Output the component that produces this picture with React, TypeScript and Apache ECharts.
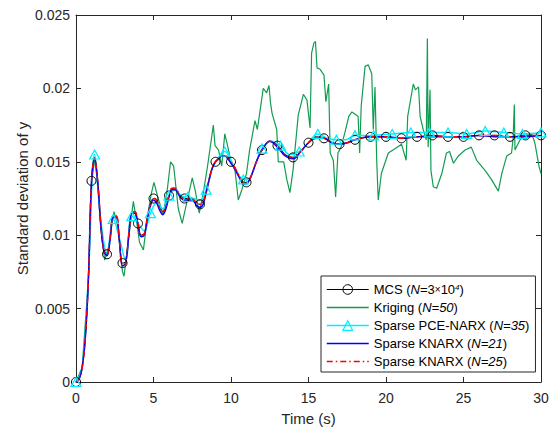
import React, { useEffect, useRef } from 'react';
import * as echarts from 'echarts';

const FONT = '"Liberation Sans", Arial, Helvetica, sans-serif';
const AXIS_COLOR = '#262626';

// Tick values
const X_TICKS = [0, 5, 10, 15, 20, 25, 30];
const Y_TICKS = [0, 0.005, 0.01, 0.015, 0.02, 0.025];

// Legend / series names
const N_MCS = 'MCS (N=3×10⁴)';
const N_KRIG = 'Kriging (N=50)';
const N_PCE = 'Sparse PCE-NARX (N=35)';
const N_K21 = 'Sparse KNARX (N=21)';
const N_K25 = 'Sparse KNARX (N=25)';

// Time grid for MCS and KNARX curves (s)
const T_MAIN = [
  0, 0.2, 0.4, 0.6, 0.8, 1, 1.2, 1.4, 1.6, 1.8,
  2, 2.2, 2.4, 2.6, 2.8, 3, 3.2, 3.4, 3.6, 3.8,
  4, 4.2, 4.4, 4.6, 4.8, 5, 5.2, 5.4, 5.6, 5.8,
  6, 6.2, 6.4, 6.6, 6.8, 7, 7.2, 7.4, 7.6, 7.8,
  8, 8.2, 8.4, 8.6, 8.8, 9, 9.2, 9.4, 9.6, 9.8,
  10, 10.2, 10.4, 10.6, 10.8, 11, 11.2, 11.4, 11.6, 11.8,
  12, 12.5, 13, 13.5, 14, 14.5, 15, 15.5, 16, 16.5, 17, 17.5, 18,
  19, 20, 21, 22, 23, 24, 25, 26, 27, 28, 29, 30,
];

const MCS = [
  0, 0.0002, 0.0010, 0.0030, 0.0070, 0.0137, 0.0153, 0.0137, 0.0108, 0.0090,
  0.0087, 0.0098, 0.0113, 0.0113, 0.0097, 0.0081, 0.0082, 0.0100, 0.0115, 0.0116,
  0.0108, 0.0100, 0.0101, 0.0112, 0.0121, 0.0125, 0.0124, 0.0119, 0.0116, 0.0120,
  0.0127, 0.0132, 0.0132, 0.0129, 0.0126, 0.0125, 0.0125, 0.0125, 0.0124, 0.0122,
  0.0121, 0.0123, 0.0130, 0.0139, 0.0146, 0.0150, 0.0152, 0.0154, 0.0154, 0.0153,
  0.0150, 0.0147, 0.0143, 0.0139, 0.0136, 0.0136, 0.0138, 0.0143, 0.0149, 0.0154,
  0.0158, 0.0164, 0.0161, 0.0155, 0.0153, 0.0157, 0.0163, 0.0167, 0.0166, 0.0163, 0.0162, 0.0163, 0.0165,
  0.0167, 0.0167, 0.0166, 0.0167, 0.0168, 0.0167, 0.0167, 0.0168, 0.0168, 0.0167, 0.0168, 0.0168,
];

const KNARX21 = [
  0, 0.0002, 0.0010, 0.0030, 0.0070, 0.0136, 0.0152, 0.0136, 0.0107, 0.0089,
  0.0086, 0.0097, 0.0112, 0.0112, 0.0096, 0.0079, 0.0081, 0.0099, 0.0115, 0.0115,
  0.0107, 0.0099, 0.0100, 0.0111, 0.0120, 0.0124, 0.0122, 0.0117, 0.0114, 0.0118,
  0.0126, 0.0131, 0.0131, 0.0128, 0.0125, 0.0124, 0.0124, 0.0124, 0.0123, 0.0120,
  0.0119, 0.0121, 0.0129, 0.0138, 0.0146, 0.0150, 0.0152, 0.0154, 0.0154, 0.0152,
  0.0149, 0.0146, 0.0142, 0.0138, 0.0135, 0.0135, 0.0138, 0.0143, 0.0149, 0.0154,
  0.0158, 0.0164, 0.0160, 0.0154, 0.0152, 0.0157, 0.0163, 0.0166, 0.0166, 0.0163, 0.0162, 0.0163, 0.0165,
  0.0167, 0.0167, 0.0166, 0.0167, 0.0167, 0.0167, 0.0167, 0.0168, 0.0167, 0.0167, 0.0167, 0.0168,
];

const KNARX25 = [
  0, 0.0002, 0.0010, 0.0030, 0.0070, 0.0137, 0.0152, 0.0137, 0.0108, 0.0090,
  0.0087, 0.0098, 0.0113, 0.0113, 0.0096, 0.0079, 0.0081, 0.0100, 0.0115, 0.0116,
  0.0108, 0.0100, 0.0101, 0.0112, 0.0121, 0.0125, 0.0124, 0.0119, 0.0116, 0.0120,
  0.0127, 0.0132, 0.0132, 0.0129, 0.0126, 0.0125, 0.0125, 0.0125, 0.0124, 0.0122,
  0.0121, 0.0123, 0.0130, 0.0139, 0.0146, 0.0150, 0.0152, 0.0154, 0.0154, 0.0153,
  0.0150, 0.0147, 0.0143, 0.0139, 0.0136, 0.0136, 0.0138, 0.0143, 0.0149, 0.0154,
  0.0158, 0.0164, 0.0161, 0.0155, 0.0153, 0.0157, 0.0163, 0.0167, 0.0166, 0.0163, 0.0162, 0.0163, 0.0165,
  0.0167, 0.0167, 0.0166, 0.0167, 0.0168, 0.0167, 0.0167, 0.0168, 0.0168, 0.0167, 0.0168, 0.0168,
];

// Sparse PCE-NARX (triangle markers every 1.2 s)
const T_PCE = [
  0, 0.4, 0.8, 1.2, 1.6, 2.0, 2.4, 2.8, 3.2, 3.6, 4.0, 4.4, 4.8, 5.2, 5.6, 6.0,
  6.4, 6.8, 7.2, 7.6, 8.0, 8.4, 8.8, 9.2, 9.6, 10.0, 10.4, 10.8, 11.2, 11.6, 12.0,
  12.6, 13.2, 13.8, 14.4, 15.0, 15.6, 16.2, 16.8, 17.4, 18.0,
  19.2, 20.4, 21.6, 22.8, 24.0, 25.2, 26.4, 27.6, 28.8, 30.0,
];
const PCE = [
  0, 0.0010, 0.0072, 0.0155, 0.0110, 0.0088, 0.0111, 0.0098, 0.0083, 0.0113, 0.0108, 0.0103, 0.0115, 0.0122, 0.0118, 0.0127,
  0.0131, 0.0127, 0.0126, 0.0125, 0.0124, 0.0131, 0.0146, 0.0153, 0.0157, 0.0151, 0.0143, 0.0138, 0.0139, 0.0149, 0.0159,
  0.0164, 0.0161, 0.0155, 0.0157, 0.0163, 0.0169, 0.0166, 0.0165, 0.0165, 0.0168,
  0.0168, 0.0169, 0.0170, 0.0170, 0.0170, 0.0169, 0.0171, 0.0170, 0.0169, 0.0170,
];

// Kriging (noisy)
const T_KRIG = [
  0, 0.4, 0.8, 1.0, 1.2, 1.4, 1.6, 1.85, 2.1, 2.45, 2.7, 3.0, 3.1, 3.3, 3.7, 3.9, 4.1, 4.35, 4.6, 4.85,
  5.03, 5.3, 5.63, 5.9, 6.1, 6.3, 6.6, 6.85, 7.1, 7.5, 7.7, 7.95, 8.2, 8.5, 8.86, 8.97, 9.2, 9.4, 9.6, 9.8,
  10.0, 10.26, 10.47, 10.7, 11.0, 11.2, 11.55, 11.7, 12.08, 12.3, 12.45, 12.55, 12.65, 12.95, 13.05, 13.4, 13.6, 13.8, 14.0, 14.34,
  14.67, 14.9, 15.1, 15.2, 15.35, 15.45, 15.55, 15.75, 16.0, 16.12, 16.3, 16.4, 16.6, 16.75, 16.9, 17.1, 17.35, 17.6, 17.8, 18.2,
  18.3, 18.4, 18.65, 18.86, 19.08, 19.18, 19.29, 19.4, 19.5, 19.7, 20.15, 20.6, 21.0, 21.3, 21.4, 21.76, 21.9, 22.1, 22.2, 22.4,
  22.6, 22.67, 22.72, 22.84, 22.9, 23.05, 23.27, 23.6, 23.9, 24.1, 24.35, 24.67, 25.1, 25.5, 25.85, 26.4, 26.8, 27.25, 27.47, 27.79,
  28.1, 28.2, 28.28, 28.32, 28.65, 28.97, 29.4, 29.6, 29.87, 30,
];
const KRIG = [
  0, 0.0010, 0.0070, 0.0135, 0.0152, 0.0135, 0.0105, 0.0083, 0.0092, 0.0116, 0.0106, 0.0075, 0.0072, 0.0090, 0.0123, 0.0110, 0.0095, 0.0090, 0.0112, 0.0128,
  0.0136, 0.0125, 0.0114, 0.0132, 0.0150, 0.0147, 0.0118, 0.0108, 0.0120, 0.0139, 0.0130, 0.0115, 0.0128, 0.0148, 0.0175, 0.0161, 0.0158, 0.0147, 0.0169, 0.0160,
  0.0150, 0.0144, 0.0124, 0.0131, 0.0142, 0.0158, 0.0178, 0.0172, 0.0200, 0.0197, 0.0202, 0.0190, 0.0183, 0.0172, 0.0150, 0.0150, 0.0138, 0.0129, 0.0144, 0.0182,
  0.0196, 0.0192, 0.0173, 0.0224, 0.0231, 0.0232, 0.0214, 0.0213, 0.0209, 0.0191, 0.0203, 0.0156, 0.0151, 0.0126, 0.0156, 0.0160, 0.0170, 0.0181, 0.0184, 0.0181,
  0.0156, 0.0188, 0.0215, 0.0216, 0.0210, 0.0172, 0.0201, 0.0151, 0.0124, 0.0142, 0.0156, 0.0159, 0.0162, 0.0151, 0.0181, 0.0203, 0.0199, 0.0201, 0.0181, 0.0172,
  0.0165, 0.0234, 0.0160, 0.0199, 0.0144, 0.0133, 0.0132, 0.0142, 0.0156, 0.0157, 0.0149, 0.0154, 0.0158, 0.0160, 0.0151, 0.0144, 0.0138, 0.0130, 0.0142, 0.0154,
  0.0156, 0.0166, 0.0189, 0.0158, 0.0165, 0.0168, 0.0169, 0.0163, 0.0147, 0.0142,
];

const isMultiple = (t: number, step: number) => Math.abs(t / step - Math.round(t / step)) < 1e-6;

const withMarkers = (ts: number[], vs: number[], step: number) =>
  ts.map((t, i) => (isMultiple(t, step) ? [t, vs[i]] : { value: [t, vs[i]], symbol: 'none' }));

const zip = (ts: number[], vs: number[]) => ts.map((t, i) => [t, vs[i]]);

const LEGEND_RICH: Record<string, string> = {
  [N_MCS]: 'MCS ({i|N}=3{x|×}10{sup|4})',
  [N_KRIG]: 'Kriging ({i|N=50})',
  [N_PCE]: 'Sparse PCE-NARX ({i|N=35})',
  [N_K21]: 'Sparse KNARX ({i|N=21})',
  [N_K25]: 'Sparse KNARX ({i|N=25})',
};

const C_GREEN = '#129c52';
const C_CYAN = '#00eeff';
const C_BLUE = '#0000ff';
const C_RED = '#ff0000';
const DASHDOT = [6, 3, 1.5, 3];

export default function App() {
  const ref = useRef<HTMLDivElement>(null);
  useEffect(() => {
    const chart = echarts.init(ref.current!, null, { renderer: 'svg' });
    const axisCommon = {
      type: 'value' as const,
      axisLine: { show: true, onZero: false, lineStyle: { color: AXIS_COLOR, width: 1 } },
      axisTick: { show: true, inside: true, length: 5, lineStyle: { color: AXIS_COLOR } },
      splitLine: { show: false },
    };
    chart.setOption({
      animation: false,
      backgroundColor: '#fff',
      textStyle: { fontFamily: FONT },
      grid: { left: 76, right: 13, top: 15, bottom: 52, containLabel: false },
      xAxis: [
        {
          ...axisCommon,
          position: 'bottom',
          min: X_TICKS[0],
          max: X_TICKS[X_TICKS.length - 1],
          interval: X_TICKS[1] - X_TICKS[0],
          axisLabel: { fontSize: 14, color: AXIS_COLOR, margin: 9, fontFamily: FONT },
          name: 'Time (s)',
          nameLocation: 'middle',
          nameGap: 29,
          nameMoveOverlap: false,
          nameTextStyle: { fontSize: 15, color: AXIS_COLOR, fontFamily: FONT },
        },
        {
          ...axisCommon,
          position: 'top',
          min: X_TICKS[0],
          max: X_TICKS[X_TICKS.length - 1],
          interval: X_TICKS[1] - X_TICKS[0],
          axisLabel: { show: false },
        },
      ],
      yAxis: [
        {
          ...axisCommon,
          position: 'left',
          min: Y_TICKS[0],
          max: Y_TICKS[Y_TICKS.length - 1],
          interval: Y_TICKS[1] - Y_TICKS[0],
          axisLabel: { fontSize: 14, color: AXIS_COLOR, margin: 6, fontFamily: FONT },
          name: 'Standard deviation of y',
          nameLocation: 'middle',
          nameGap: 46,
          nameMoveOverlap: false,
          nameRotate: 90,
          nameTextStyle: { fontSize: 15, color: AXIS_COLOR, fontFamily: FONT },
        },
        {
          ...axisCommon,
          position: 'right',
          min: Y_TICKS[0],
          max: Y_TICKS[Y_TICKS.length - 1],
          interval: Y_TICKS[1] - Y_TICKS[0],
          axisLabel: { show: false },
        },
      ],
      legend: {
        orient: 'vertical',
        left: 321,
        top: 276,
        padding: [7, 6, 4, 5],
        itemGap: 5,
        itemWidth: 42,
        itemHeight: 12,
        backgroundColor: '#fff',
        borderColor: AXIS_COLOR,
        borderWidth: 1,
        selectedMode: false,
        textStyle: {
          fontSize: 13,
          color: '#000',
          fontFamily: FONT,
          rich: {
            i: { fontSize: 13, fontStyle: 'italic', fontFamily: FONT, color: '#000' },
            x: { fontSize: 10, fontFamily: FONT, color: '#000' },
            sup: { fontSize: 8, fontStyle: 'italic', verticalAlign: 'top', fontFamily: FONT, color: '#000' },
          },
        },
        formatter: (name: string) => LEGEND_RICH[name] || name,
        data: [
          { name: N_MCS, itemStyle: { color: 'transparent', borderColor: '#000', borderWidth: 1 }, lineStyle: { color: '#000', width: 1 } },
          { name: N_KRIG, itemStyle: { opacity: 0 }, lineStyle: { color: C_GREEN, width: 1.5 } },
          { name: N_PCE, itemStyle: { color: 'transparent', borderColor: C_CYAN, borderWidth: 1.2 }, lineStyle: { color: C_CYAN, width: 1.5 } },
          { name: N_K21, itemStyle: { opacity: 0 }, lineStyle: { color: C_BLUE, width: 1.5 } },
          { name: N_K25, itemStyle: { opacity: 0 }, lineStyle: { color: C_RED, width: 1.5, type: DASHDOT } },
        ],
      },
      series: [
        {
          name: N_MCS,
          type: 'line',
          data: withMarkers(T_MAIN, MCS, 1),
          smooth: 0.4,
          symbol: 'circle',
          symbolSize: 9,
          itemStyle: { color: 'transparent', borderColor: '#000', borderWidth: 1 },
          lineStyle: { color: '#000', width: 1 },
          emphasis: { disabled: true },
        },
        {
          name: N_KRIG,
          type: 'line',
          data: zip(T_KRIG, KRIG),
          symbol: 'none',
          itemStyle: { color: C_GREEN },
          lineStyle: { color: C_GREEN, width: 1.2 },
          emphasis: { disabled: true },
        },
        {
          name: N_PCE,
          type: 'line',
          data: withMarkers(T_PCE, PCE, 1.2),
          smooth: 0.4,
          symbol: 'triangle',
          symbolSize: [10, 9],
          itemStyle: { color: 'transparent', borderColor: C_CYAN, borderWidth: 1.2 },
          lineStyle: { color: C_CYAN, width: 1.5 },
          emphasis: { disabled: true },
        },
        {
          name: N_K21,
          type: 'line',
          data: zip(T_MAIN, KNARX21),
          smooth: 0.4,
          symbol: 'none',
          itemStyle: { color: C_BLUE },
          lineStyle: { color: C_BLUE, width: 1.5 },
          emphasis: { disabled: true },
        },
        {
          name: N_K25,
          type: 'line',
          data: zip(T_MAIN, KNARX25),
          smooth: 0.4,
          symbol: 'none',
          itemStyle: { color: C_RED },
          lineStyle: { color: C_RED, width: 1.5, type: DASHDOT },
          emphasis: { disabled: true },
        },
      ],
    });
    return () => chart.dispose();
  }, []);
  return (
    <div
      ref={ref}
      style={{ position: 'fixed', left: 0, top: 0, width: 554, height: 434, background: '#fff' }}
    />
  );
}
